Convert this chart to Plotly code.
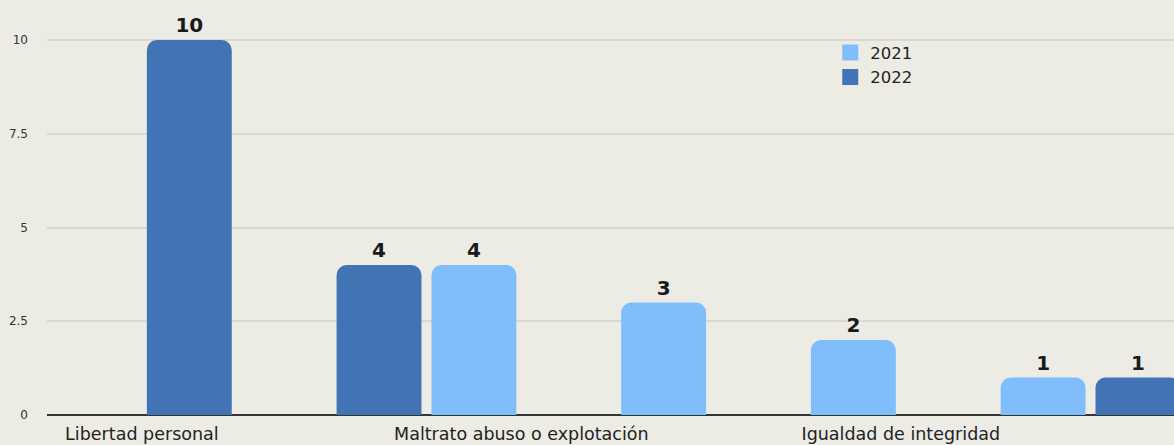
import plotly.graph_objects as go

categories = ["Libertad personal", "Categoría 2", "Maltrato abuso o explotación",
              "Categoría 4", "Igualdad de integridad", "Categoría 6"]
shown_labels = ["Libertad personal", "Maltrato abuso o explotación", "Igualdad de integridad"]
values_2021 = [None, None, 4, 3, 2, 1]
values_2022 = [10, 4, None, None, None, 1]
y_ticks = [0, 2.5, 5, 7.5, 10]
y_tick_text = ["0", "2.5", "5", "7.5", "10"]

c2021 = "#80BEFB"
c2022 = "#4274B5"
FONT = "DejaVu Sans, Verdana, sans-serif"

def labels(vals):
    return [str(v) if v else "" for v in vals]

fig = go.Figure()
for name, vals, col in [("2021", values_2021, c2021), ("2022", values_2022, c2022)]:
    fig.add_trace(go.Bar(name=name, x=categories, y=vals, marker_color=col, marker_line_width=0,
                         text=labels(vals), textposition="outside", cliponaxis=False, showlegend=False,
                         textfont=dict(family=FONT, size=20, color="#1a1a1a", weight="bold")))
for name, col in [("2021", c2021), ("2022", c2022)]:
    fig.add_trace(go.Scatter(name=name, x=[None], y=[None], mode="markers",
                             marker=dict(symbol="square", size=20, color=col), showlegend=True))

fig.update_layout(
    width=1174, height=445,
    margin=dict(l=47, r=0, t=0, b=30),
    paper_bgcolor="#ECECE5", plot_bgcolor="#ECECE5",
    barmode="group", bargap=0.0, bargroupgap=0.105, barcornerradius=10,
    font=dict(family=FONT, color="#222"),
    legend=dict(x=0.695, y=0.915, xanchor="left", yanchor="top",
                bgcolor="rgba(0,0,0,0)", font=dict(size=16.5, color="#222"),
                itemsizing="trace", tracegroupgap=0),
)
fig.update_xaxes(range=[-0.5, 5.44], tickmode="array", tickvals=shown_labels, ticktext=shown_labels,
                 tickfont=dict(size=17.5, color="#222"), showgrid=False, showline=False, ticks="",
                 ticklabelstandoff=6)
fig.update_yaxes(range=[0, 11.07], tickmode="array", tickvals=y_ticks, ticktext=y_tick_text,
                 tickfont=dict(size=12, color="#333"), showgrid=True, gridcolor="#D9D9D2", gridwidth=1.5,
                 zeroline=True, zerolinecolor="#333", zerolinewidth=1.5, ticklabelstandoff=18)

fig.write_html("out.html", config={"displayModeBar": False},
               post_script="document.body.style.margin='0';document.body.style.background='#ECECE5';")
